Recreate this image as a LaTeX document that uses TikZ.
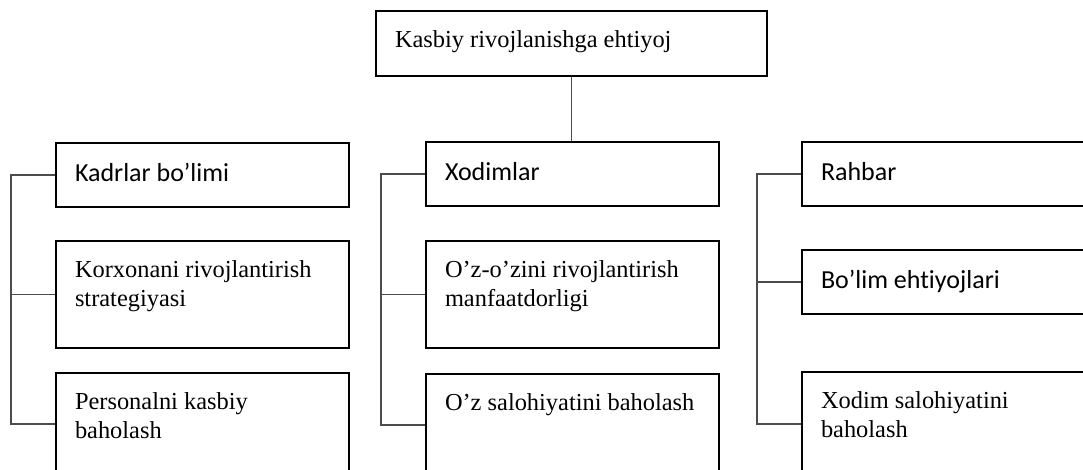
\documentclass[tikz,border=0pt]{standalone}
\usepackage{fontspec}
\setmainfont{Liberation Serif}
\newfontfamily\calibri[Ligatures=NoCommon]{Carlito}
\newcommand{\serifsize}{\fontsize{24.4}{29}\selectfont}
\newcommand{\sanssize}{\calibri\fontsize{26}{31}\selectfont}
% one line, left in the box
\newcommand{\linebody}[2]{\makebox[#1][l]{#2}}
% text that starts at the top of a taller box
\newcommand{\topbody}[2]{\parbox[c][#1][t]{255pt}{\serifsize #2}}

\begin{document}
\begin{tikzpicture}[x=1pt, y=-1pt,
    box/.style={draw, line width=2pt, anchor=north west, inner xsep=19pt},
    onebox/.style={box, minimum height=64pt},
    sansbox/.style={onebox, font=\sanssize, text height=19.5pt, text depth=6.5pt},
    twobox/.style={box, inner ysep=20pt},
    link/.style={draw=black!70, line width=1.3pt}]
    \useasboundingbox (0,0) rectangle (1083,470);

    \node[onebox, minimum height=65pt, font=\serifsize,
          text height=17pt, text depth=8pt] (need) at (375,10)
          {\linebody{353pt}{Kasbiy rivojlanishga ehtiyoj}};

    % left column
    \node[sansbox] (kadr) at (55,142) {\linebody{255pt}{Kadrlar bo’limi}};
    \node[twobox] (korx) at (55,240) {\topbody{67pt}{Korxonani rivojlantirish\\strategiyasi}};
    \node[twobox] (pers) at (55,372) {\topbody{62pt}{Personalni kasbiy\\baholash}};

    % middle column
    \node[sansbox] (xod) at (425,141) {\linebody{255pt}{Xodimlar}};
    \node[twobox] (ozoz) at (425,240) {\topbody{67pt}{O’z-o’zini rivojlantirish\\manfaatdorligi}};
    \node[twobox] (ozsal) at (425,373) {\topbody{62pt}{O’z salohiyatini baholash}};

    % right column
    \node[sansbox] (rahb) at (801,141) {\linebody{255pt}{Rahbar}};
    \node[sansbox] (bolim) at (801,249) {\linebody{255pt}{Bo’lim ehtiyojlari}};
    \node[twobox] (xsal) at (801,371) {\topbody{64pt}{Xodim salohiyatini\\baholash}};

    \draw[link] (need.south) -- (need.south |- xod.north);

    \draw[link] (kadr.west) -- ++(-44,0) coordinate (lspine) |- (pers.west);
    \draw[link] (korx.west) -- (korx.west -| lspine);

    \draw[link] (xod.west) -- ++(-44,0) coordinate (mspine) |- (ozsal.west);
    \draw[link] (ozoz.west) -- (ozoz.west -| mspine);

    \draw[link] (rahb.west) -- ++(-44,0) coordinate (rspine) |- (xsal.west);
    \draw[link] (bolim.west) -- (bolim.west -| rspine);
\end{tikzpicture}
\end{document}
